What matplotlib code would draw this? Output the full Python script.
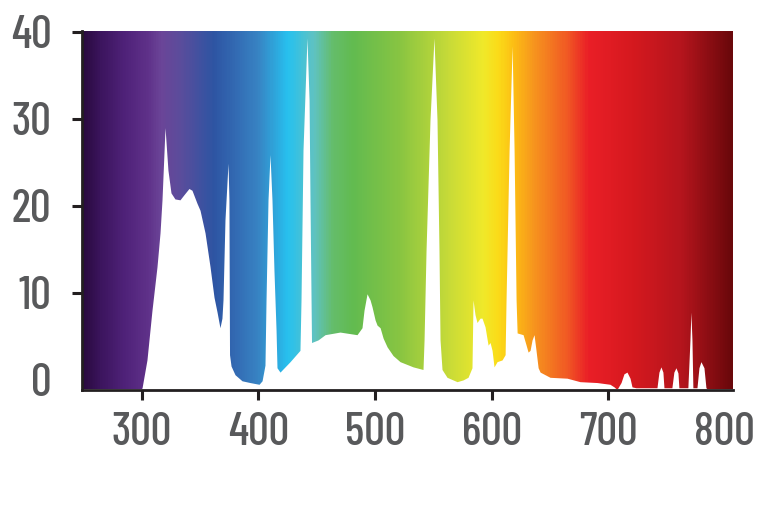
import matplotlib
matplotlib.use("Agg")
import matplotlib.pyplot as plt
import numpy as np
from matplotlib.colors import LinearSegmentedColormap

# spectrum outline (wavelength nm, relative intensity)
wavelength = [
    248.8, 299.4, 300.3, 304.5, 308.8, 313.1, 315.7, 317.4, 320.0, 322.5,
    325.1, 328.5, 332.8, 336.3, 340.5, 343.1, 347.4, 350.0, 354.3, 358.6,
    362.0, 364.6, 367.1, 368.8, 369.7, 371.4, 374.0, 374.8, 375.1, 375.3,
    376.6, 380.0, 386.0, 392.8, 400.6, 403.2, 405.7, 406.6, 408.3, 410.0,
    411.7, 413.4, 415.2, 416.0, 418.6, 427.2, 435.7, 436.6, 438.3, 441.7,
    443.5, 444.3, 445.2, 445.6, 451.2, 457.2, 470.0, 484.6, 488.9, 490.6,
    493.2, 495.8, 497.5, 500.1, 501.8, 504.4, 507.0, 510.4, 515.5, 521.5,
    532.7, 541.2, 542.1, 543.8, 547.2, 550.6, 553.2, 554.9, 555.8, 557.5,
    561.8, 570.4, 575.5, 579.8, 583.2, 584.1, 585.8, 587.5, 590.1, 591.8,
    594.4, 597.0, 598.7, 600.4, 602.1, 604.7, 609.0, 611.6, 612.4, 615.0,
    617.6, 619.3, 621.0, 621.9, 624.5, 627.0, 629.6, 631.3, 633.0, 634.7,
    636.4, 638.1, 639.9, 641.6, 650.1, 664.7, 675.8, 690.4, 701.5, 705.0,
    707.5, 711.0, 713.5, 716.1, 718.7, 720.4, 723.8, 740.1, 741.8, 743.5,
    745.2, 746.9, 747.8, 754.6, 756.3, 758.1, 759.8, 760.6, 768.3, 770.1,
    770.9, 771.8, 772.6, 776.1, 777.8, 779.5, 782.1, 783.8, 785.5, 807.0,
]
intensity = [
    -1.1, -1.1, -0.9, 2.3, 8.0, 13.0, 16.9, 20.7, 29.0, 24.1,
    21.5, 20.8, 20.7, 21.3, 22.0, 21.8, 20.3, 19.5, 16.9, 13.0,
    9.5, 7.8, 6.0, 7.1, 9.2, 18.4, 24.9, 20.7, 9.2, 2.9,
    1.6, 0.6, -0.1, -0.3, -0.5, -0.1, 1.7, 9.2, 20.7, 25.9,
    20.7, 12.6, 5.7, 1.4, 0.9, 2.1, 3.4, 9.2, 26.4, 39.3,
    32.2, 20.7, 9.2, 4.3, 4.6, 5.2, 5.5, 5.2, 6.0, 8.0,
    9.9, 9.2, 8.4, 6.9, 6.3, 6.0, 4.8, 3.8, 2.8, 2.1,
    1.5, 1.2, 4.6, 14.9, 29.9, 39.3, 29.9, 14.9, 4.6, 1.2,
    0.3, -0.2, 0.0, 0.3, 1.4, 9.2, 7.5, 6.6, 7.1, 7.1,
    6.1, 4.0, 4.3, 3.4, 1.5, 2.1, 2.3, 2.9, 9.2, 26.4,
    38.4, 26.4, 9.2, 5.4, 5.3, 5.2, 4.0, 3.2, 3.4, 4.6,
    5.2, 3.4, 1.4, 0.9, 0.3, 0.2, -0.2, -0.3, -0.5, -0.8,
    -1.1, -0.3, 0.7, 0.9, 0.2, -0.8, -0.9, -0.9, -0.9, 0.9,
    1.5, 0.9, -0.9, -0.9, 0.9, 1.4, 0.8, -0.9, -0.9, 4.6,
    7.8, 4.6, -0.9, -0.9, 1.4, 2.1, 1.4, -0.9, -1.1, -1.1,
]

# background colour stops (nm, colour)
stop_nm = [249, 264, 284, 304, 316, 333, 361, 376, 399, 425, 447, 464,
           481, 521, 564, 593, 606, 620, 636, 665, 684, 721, 764, 807]
stop_col = ['#2a0a3f', '#3c155e', '#4f2279', '#5f3189', '#6b4598', '#5a4d9c',
            '#2e55a3', '#3266b0', '#3883c3', '#27c1ef', '#5fc3c3', '#65bd6a',
            '#62bb50', '#88c542', '#c8db38', '#f0e92a', '#fbdc19', '#fdbd14',
            '#f7971e', '#f15a24', '#ea1f27', '#d6191f', '#b5151d', '#6a080b']

x_ticks = [300, 400, 500, 600, 700, 800]
y_ticks = [0, 10, 20, 30, 40]

xmin, xmax = 248.8, 807.0
ymin, ymax = -1.1, 40.1

plt.rcParams['font.family'] = ['Barlow Condensed', 'PT Sans Narrow', 'DejaVu Sans']

pos = [(n - xmin) / (xmax - xmin) for n in stop_nm]
pos[0], pos[-1] = 0.0, 1.0
cmap = LinearSegmentedColormap.from_list('spec', list(zip(pos, stop_col)))

fig = plt.figure(figsize=(7.71, 5.14), dpi=100)
ax = fig.add_axes([82 / 771, 1 - 389.5 / 514, (733 - 82) / 771, (389.5 - 31) / 514])

grad = np.linspace(0, 1, 800).reshape(1, -1)
ax.imshow(grad, cmap=cmap, extent=(xmin, xmax, ymin, ymax), aspect='auto',
          interpolation='bilinear', zorder=0)
ax.fill_between(wavelength, ymin, intensity, color='white', lw=0, zorder=1)

ax.set_xlim(xmin, xmax)
ax.set_ylim(ymin, ymax)
ax.set_xticks(x_ticks)
ax.set_yticks(y_ticks)

for side in ['top', 'right']:
    ax.spines[side].set_visible(False)
for side in ['left', 'bottom']:
    ax.spines[side].set_linewidth(2.0)
    ax.spines[side].set_color('#231f20')
    ax.spines[side].set_zorder(3)

ax.tick_params(direction='out', length=7, width=2.2, color='#231f20',
               labelcolor='#58595b', labelsize=33)
ax.tick_params(axis='y', pad=15)
ax.tick_params(axis='x', pad=9)
ax.yaxis.get_major_ticks()[0].tick1line.set_visible(False)
ax.xaxis.get_major_ticks()[-1].tick1line.set_visible(False)

for lab in ax.get_xticklabels() + ax.get_yticklabels():
    lab.set_fontweight(500)

fig.savefig('out.png', dpi=100)
